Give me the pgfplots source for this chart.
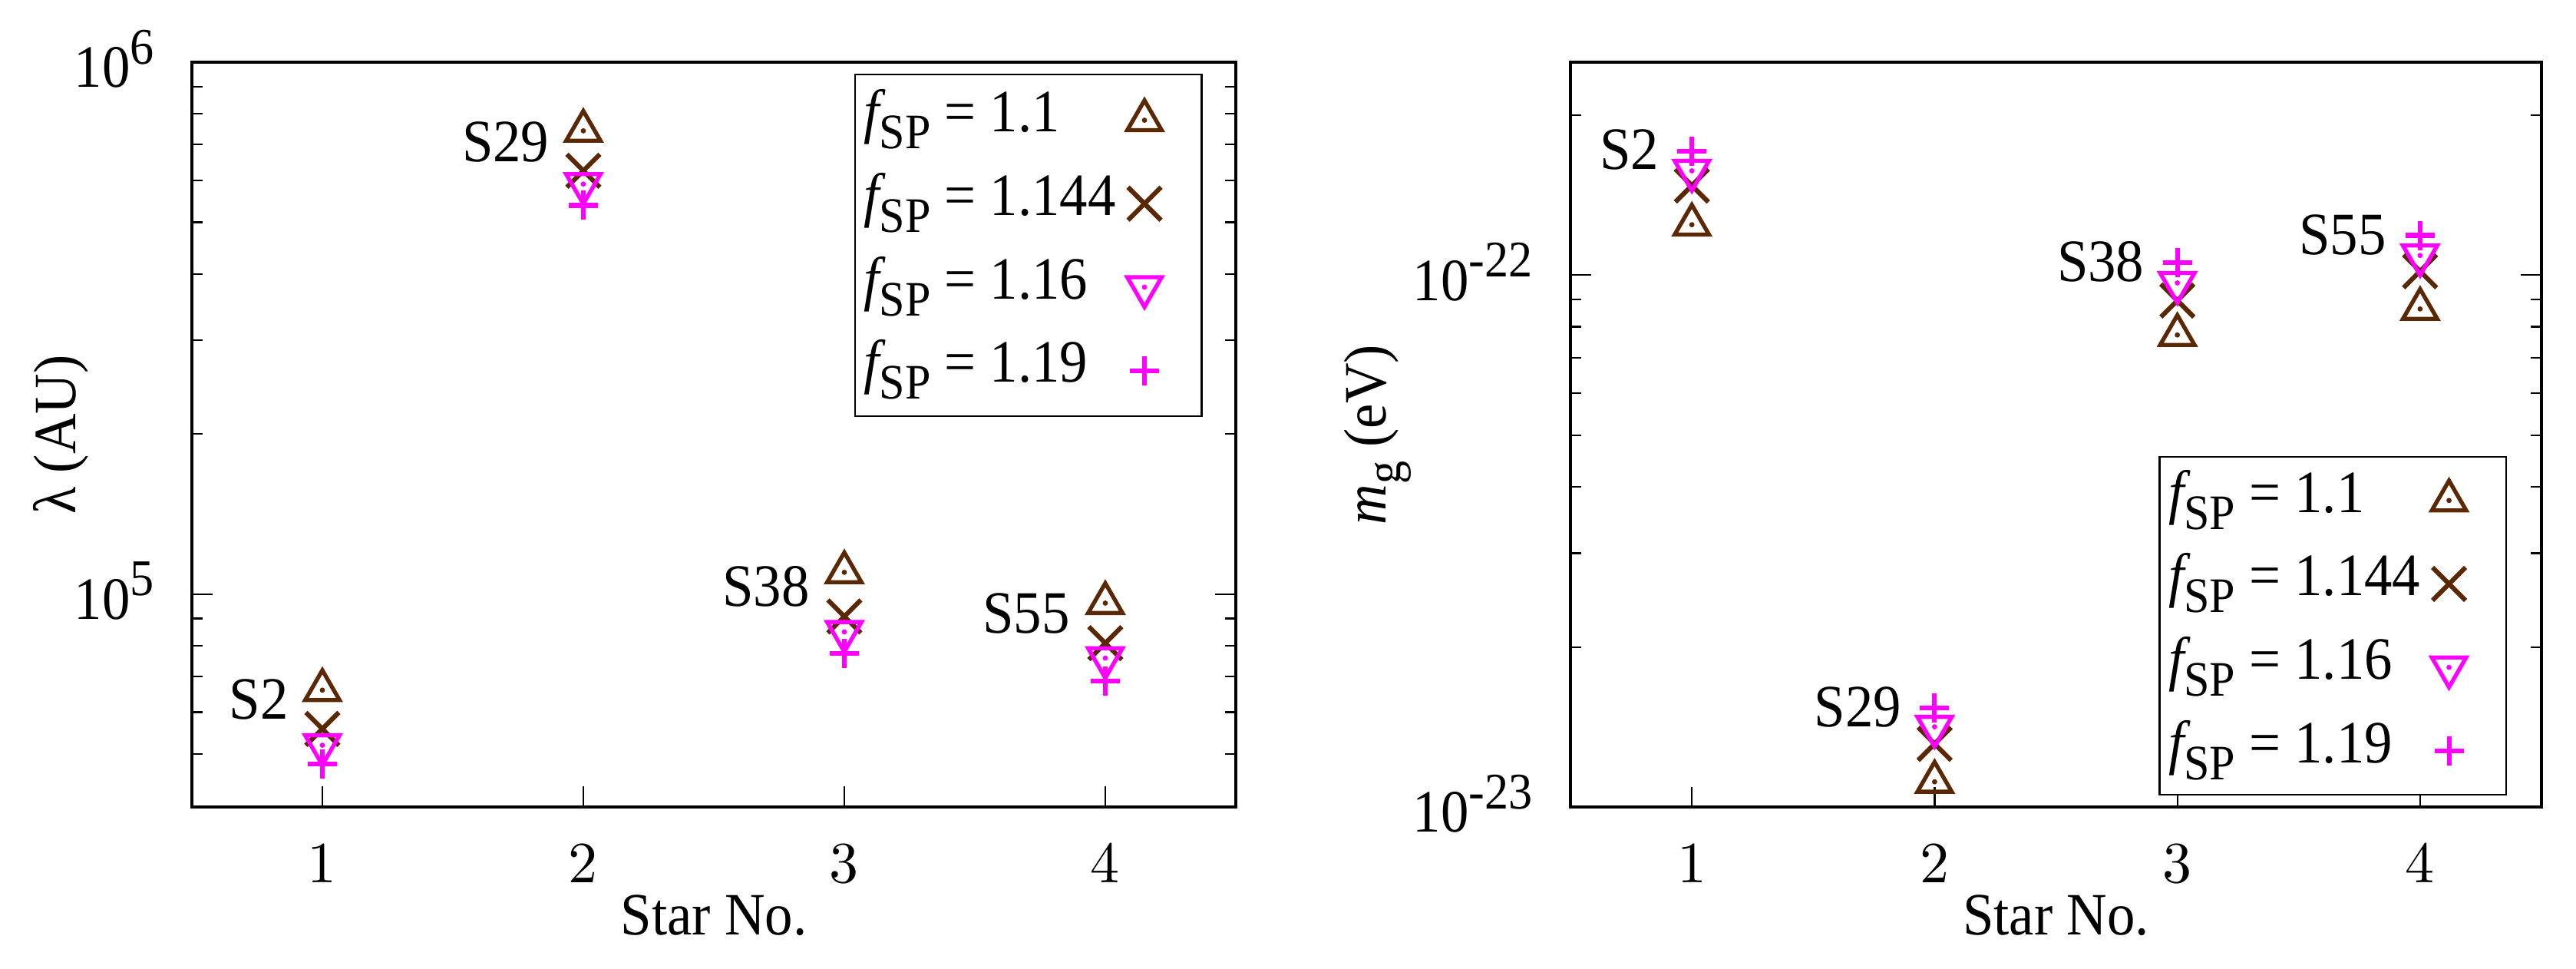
\documentclass[border=0pt]{standalone}
\usepackage{fontspec}
\setmainfont{Liberation Serif}[FakeStretch=0.93]
\usepackage{pgfplots}
\pgfplotsset{compat=1.18}
\definecolor{mybrown}{RGB}{90,40,5}
\definecolor{mymag}{RGB}{255,0,255}
\pgfdeclareplotmark{tridot}{\pgfuseplotmark{triangle}\pgfpathcircle{\pgfpointorigin}{0.45pt}\pgfusepathqfill}
\newcommand{\sups}[1]{\raisebox{0.85ex}{\fontsize{8.8}{10}\selectfont #1}}
\newcommand{\fsp}{{\itshape f}\raisebox{-2.9pt}{\fontsize{8.5}{10}\selectfont SP}}
\pgfplotsset{
  s1/.style={only marks, color=mybrown, mark=tridot, mark size=3.4pt, line width=0.7pt},
  s2/.style={only marks, color=mybrown, mark=x, mark size=4.0pt, line width=0.8pt},
  s3/.style={only marks, color=mymag, mark=tridot, mark size=3.4pt, line width=0.7pt, mark options={rotate=180}},
  s4/.style={only marks, color=mymag, mark=+, mark size=2.5pt, line width=0.8pt},
}
\begin{document}
\begin{tikzpicture}[font=\fontsize{10.3}{12}\selectfont]
\useasboundingbox (0,0) rectangle (441.58pt,166.05pt);
\begin{axis}[
  scale only axis, anchor=south west,
  ymode=log, xmin=0.5, xmax=4.5,
  xtick={1,2,3,4}, xtick pos=bottom,
  axis line style={line width=0.6pt},
  every tick/.style={line width=0.3pt, black},
  major tick length=3.5pt, minor tick length=1.8pt,
  xticklabel style={anchor=center, yshift=-9.7pt},
  yticklabel style={anchor=base east, inner sep=0pt, xshift=-6.3pt, yshift=-4.3pt},
  every axis x label/.style={at={(rel axis cs:0.5,0)}, anchor=center, yshift=-18.6pt},
  legend plot pos=right,
  legend cell align=left,
  legend style={draw=black, line width=0.3pt, inner xsep=0.5pt, inner ysep=1.8pt, row sep=2.3pt,
    nodes={inner sep=1pt, text height=7pt, text depth=3pt},
    at={(rel axis cs:1,1)}, anchor=north east, xshift=-5.7pt, yshift=-2pt},
  legend image code/.code={%
    \path[draw=none,fill=none] (0pt,-3pt) rectangle (13.2pt,3pt);
    \draw[mark repeat=1] plot coordinates {(3.9pt,0pt)};
  },
  at={(32.89pt,27.76pt)}, width=178.95pt, height=127.63pt,
  ymin=39810.7, ymax=1e6,
  ytick={1e5,1e6}, yticklabels={10\sups{5},10\sups{6}},
  minor ytick={5e4,6e4,7e4,8e4,9e4,2e5,3e5,4e5,5e5,6e5,7e5,8e5,9e5},
  xlabel={Star No.},
  ylabel={λ (AU)},
  every axis y label/.style={at={(rel axis cs:0,0.5)}, xshift=-22.4pt, rotate=90, anchor=center},
]
\addplot[s1] coordinates {(1,66000) (2,743000) (3,109900) (4,96200)};
\addlegendentry{\fsp\ = 1.1}
\addplot[s2] coordinates {(1,55800) (2,625000) (3,90800) (4,80900)};
\addlegendentry{\fsp\ = 1.144}
\addplot[s3] coordinates {(1,52000) (2,590000) (3,84900) (4,75800)};
\addlegendentry{\fsp\ = 1.16}
\addplot[s4] coordinates {(1,47900) (2,538000) (3,77400) (4,68700)};
\addlegendentry{\fsp\ = 1.19}
\node at (axis cs:0.756,63400) {S2};
\node at (axis cs:1.702,709000) {S29};
\node at (axis cs:2.700,103200) {S38};
\node at (axis cs:3.697,91900) {S55};
\end{axis}
\begin{axis}[
  scale only axis, anchor=south west,
  ymode=log, xmin=0.5, xmax=4.5,
  xtick={1,2,3,4}, xtick pos=bottom,
  axis line style={line width=0.6pt},
  every tick/.style={line width=0.3pt, black},
  major tick length=3.5pt, minor tick length=1.8pt,
  xticklabel style={anchor=center, yshift=-9.7pt},
  yticklabel style={anchor=base east, inner sep=0pt, xshift=-6.3pt, yshift=-4.3pt},
  every axis x label/.style={at={(rel axis cs:0.5,0)}, anchor=center, yshift=-18.6pt},
  legend plot pos=right,
  legend cell align=left,
  legend style={draw=black, line width=0.3pt, inner xsep=0.5pt, inner ysep=1.5pt, row sep=2.3pt,
    nodes={inner sep=1pt, text height=7pt, text depth=3pt},
    at={(rel axis cs:1,0)}, anchor=south east, xshift=-5.9pt, yshift=2pt},
  legend image code/.code={%
    \path[draw=none,fill=none] (0pt,-3pt) rectangle (13.2pt,3pt);
    \draw[mark repeat=1] plot coordinates {(3.9pt,0pt)};
  },
  at={(269.21pt,27.76pt)}, width=166.45pt, height=127.63pt,
  ymin=1e-23, ymax=2.512e-22,
  ytick={1e-23,1e-22}, yticklabels={10\sups{-23},10\sups{-22}},
  minor ytick={2e-23,3e-23,4e-23,5e-23,6e-23,7e-23,8e-23,9e-23,2e-22},
  xlabel={Star No.},
  ylabel={{\itshape m}\raisebox{-2.5pt}{\fontsize{8.5}{10}\selectfont g} (eV)},
  every axis y label/.style={at={(rel axis cs:0,0.5)}, xshift=-33pt, rotate=90, anchor=center},
]
\addplot[s1] coordinates {(1,1.244e-22) (2,1.116e-23) (3,7.72e-23) (4,8.64e-23)};
\addlegendentry{\fsp\ = 1.1}
\addplot[s2] coordinates {(1,1.474e-22) (2,1.315e-23) (3,8.96e-23) (4,1.017e-22)};
\addlegendentry{\fsp\ = 1.144}
\addplot[s3] coordinates {(1,1.571e-22) (2,1.416e-23) (3,9.67e-23) (4,1.089e-22)};
\addlegendentry{\fsp\ = 1.16}
\addplot[s4] coordinates {(1,1.71e-22) (2,1.535e-23) (3,1.057e-22) (4,1.188e-22)};
\addlegendentry{\fsp\ = 1.19}
\node at (axis cs:0.742,1.722e-22) {S2};
\node at (axis cs:1.684,1.541e-23) {S29};
\node at (axis cs:2.684,1.061e-22) {S38};
\node at (axis cs:3.681,1.192e-22) {S55};
\end{axis}
\end{tikzpicture}
\end{document}
